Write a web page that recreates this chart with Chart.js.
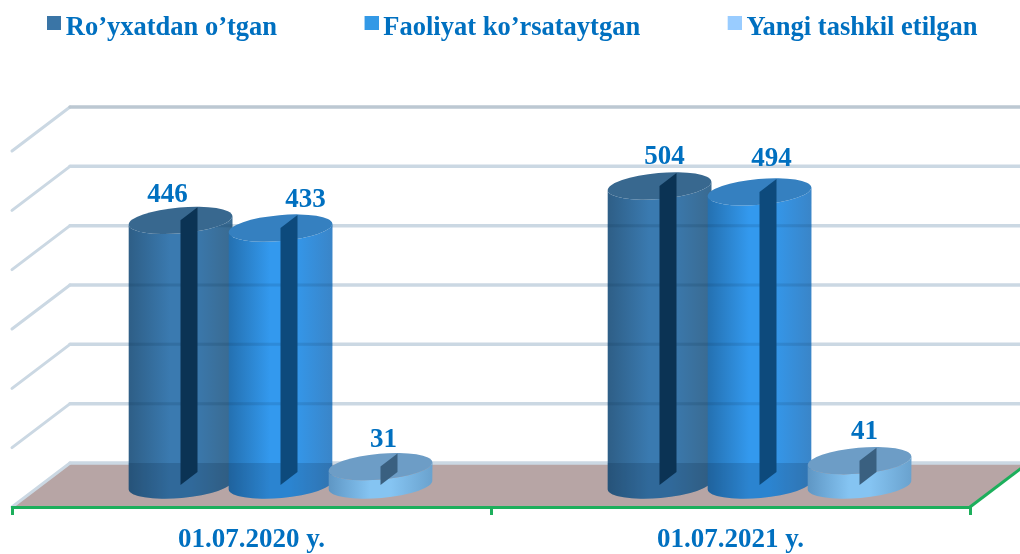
<!DOCTYPE html>
<html><head><meta charset="utf-8">
<style>html,body{margin:0;padding:0;background:#fff}canvas{display:block}</style>
<script src="https://cdn.jsdelivr.net/npm/chart.js@4/dist/chart.umd.min.js"></script>
</head><body><canvas id="c" width="1020" height="554"></canvas>
<script>
const categories = ['01.07.2020 y.', '01.07.2021 y.'];
const seriesNames = ['Ro’yxatdan o’tgan', 'Faoliyat ko’rsataytgan', 'Yangi tashkil etilgan'];
const registered = [446, 504];
const active = [433, 494];
const newlyCreated = [31, 41];
const yTicks = [0, 100, 200, 300, 400, 500, 600];

const FONT = '"Liberation Serif"';
const TEXT = '#0070C0';
const DEPTH = {x: 58, y: -44};
const legendColors = ['#3A75A6', '#3399E6', '#99CCFF'];
const cyl = [
  {left: '#2E5E86', mid: '#3A7AB0', right: '#3A6A90', top: '#38688F', plane: '#0B3354', band: .2},
  {left: '#2470B0', mid: '#3399EE', right: '#3A85C8', top: '#3580C0', plane: '#0D4A7C', band: .18},
  {left: '#5E96C4', mid: '#85C4F2', right: '#6AA2CE', top: '#6D9DC6', plane: '#3A6080', band: 0}
];
const labelNudge = [[[-13,-25],[5,-29]], [[25,-28],[12,-33]], [[3,-27],[5,-29]]];

function swatch(color){
  const s = document.createElement('canvas'); s.width = 18; s.height = 24;
  const g = s.getContext('2d'); g.fillStyle = color; g.fillRect(4,0,14,14);
  return s;
}

const scene = {
  id: 'scene',
  beforeLayout(chart){
    const lg = chart.legend;
    if (lg && !lg._patched){
      lg._patched = true;
      const fit = lg.fit;
      lg.fit = function(){ this.maxWidth = 3000; fit.call(this); this.width = 958; this.height = 151; };
    }
  },
  afterLayout(chart){
    const lg = chart.legend;
    lg.left = 51.5 - 92; lg.right = 3000; lg.top = 28 - 13.25 - 92;
  },
  beforeDraw(chart){
    const {ctx, scales:{x, y}} = chart;
    const f = y.getPixelForValue(0), L = x.left, R = x.right;
    ctx.save();
    ctx.fillStyle = '#B7A5A5';
    ctx.beginPath();
    ctx.moveTo(L, f); ctx.lineTo(R, f); ctx.lineTo(R+DEPTH.x, f+DEPTH.y); ctx.lineTo(L+DEPTH.x, f+DEPTH.y);
    ctx.closePath(); ctx.fill();
    ctx.lineCap = 'round';
    yTicks.forEach(v => {
      const p = y.getPixelForValue(v);
      ctx.strokeStyle = '#CBD8E3'; ctx.lineWidth = 3;
      if (v > 0){ ctx.beginPath(); ctx.moveTo(L, p); ctx.lineTo(L+DEPTH.x, p+DEPTH.y); ctx.stroke(); }
      ctx.strokeStyle = v === 600 ? '#BCC8D2' : '#CBD8E3'; ctx.lineWidth = 3.5;
      ctx.beginPath(); ctx.moveTo(L+DEPTH.x, p+DEPTH.y); ctx.lineTo(R+DEPTH.x, p+DEPTH.y); ctx.stroke();
    });
    ctx.strokeStyle = '#CBD8E3'; ctx.lineWidth = 3;
    ctx.beginPath(); ctx.moveTo(L, f); ctx.lineTo(L+DEPTH.x, f+DEPTH.y); ctx.stroke();
    ctx.strokeStyle = '#1DAF5C'; ctx.lineWidth = 3; ctx.lineCap = 'butt';
    ctx.beginPath(); ctx.moveTo(R, f); ctx.lineTo(R+DEPTH.x, f+DEPTH.y); ctx.stroke();
    ctx.restore();
  },
  afterDatasetsDraw(chart){
    const {ctx, scales:{y}} = chart;
    const RY = 13, TILT = -5*Math.PI/180;
    const floorBack = y.getPixelForValue(0) + DEPTH.y;
    chart.data.datasets.forEach((ds, di) => {
      const st = cyl[di];
      chart.getDatasetMeta(di).data.forEach((bar, i) => {
        const rx = bar.width/2 + 2;
        const cx = bar.x + DEPTH.x/2;
        const by = bar.base + DEPTH.y/2;
        const ty = bar.y + DEPTH.y/2;
        const dy = Math.sin(TILT)*rx;
        ctx.save();
        const g = ctx.createLinearGradient(cx-rx, 0, cx+rx, 0);
        g.addColorStop(0, st.left); g.addColorStop(.4, st.mid); g.addColorStop(.6, st.mid); g.addColorStop(1, st.right);
        ctx.fillStyle = g;
        const body = new Path2D();
        body.ellipse(cx, by, rx, RY, TILT, Math.PI, 0, true);
        body.lineTo(cx+rx, ty+dy);
        body.ellipse(cx, ty, rx, RY, TILT, 0, Math.PI, false);
        body.closePath();
        ctx.fill(body);
        if (st.band > 0){
          ctx.save();
          ctx.clip(body);
          ctx.fillStyle = `rgba(10,40,70,${st.band})`;
          ctx.fillRect(cx-rx-1, floorBack, 2*rx+2, by+RY-floorBack+2);
          ctx.strokeStyle = `rgba(10,40,70,${st.band*.7})`; ctx.lineWidth = 3;
          yTicks.slice(1).forEach(v => {
            const p = y.getPixelForValue(v) + DEPTH.y;
            ctx.beginPath(); ctx.moveTo(cx-rx-1, p); ctx.lineTo(cx+rx+1, p); ctx.stroke();
          });
          ctx.restore();
        }
        ctx.fillStyle = st.top;
        ctx.beginPath(); ctx.ellipse(cx, ty, rx, RY, TILT, 0, Math.PI*2); ctx.fill();
        ctx.fillStyle = st.plane;
        ctx.beginPath();
        ctx.moveTo(cx, ty); ctx.lineTo(cx+17, ty-13); ctx.lineTo(cx+17, by-13); ctx.lineTo(cx, by);
        ctx.closePath(); ctx.fill();
        ctx.restore();
      });
    });
    chart.data.datasets.forEach((ds, di) => {
      chart.getDatasetMeta(di).data.forEach((bar, i) => {
        const n = labelNudge[di][i];
        ctx.save();
        ctx.font = 'bold 27px ' + FONT; ctx.fillStyle = TEXT;
        ctx.textAlign = 'center'; ctx.textBaseline = 'middle';
        ctx.fillText(String(ds.data[i]), bar.x + DEPTH.x/2 + n[0], bar.y + DEPTH.y/2 + n[1]);
        ctx.restore();
      });
    });
  }
};

const seriesValues = [registered, active, newlyCreated];
new Chart(document.getElementById('c'), {
  type: 'bar',
  data: {
    labels: categories,
    datasets: seriesNames.map((n, i) => ({
      label: n, data: seriesValues[i],
      backgroundColor: 'rgba(0,0,0,0)', borderWidth: 0,
      categoryPercentage: 0.6263, barPercentage: 1
    }))
  },
  options: {
    responsive: false, animation: false, devicePixelRatio: 1,
    layout: {padding: {left: 12, right: 50, top: 0, bottom: 1}},
    plugins: {
      tooltip: {enabled: false},
      legend: {
        display: true, position: 'top', align: 'start',
        labels: {
          boxWidth: 1, boxHeight: 1, usePointStyle: true, padding: 92,
          color: TEXT, font: {family: FONT, size: 26.5, weight: 'bold'},
          generateLabels: c => c.data.datasets.map((d, i) => ({
            text: d.label, fontColor: TEXT, pointStyle: swatch(legendColors[i]),
            fillStyle: legendColors[i], strokeStyle: legendColors[i], lineWidth: 0, datasetIndex: i
          }))
        }
      }
    },
    scales: {
      x: {
        afterFit(s){ s.height = 46; },
        grid: {display: true, drawOnChartArea: false, drawTicks: true, color: '#1DAF5C', lineWidth: 3, tickLength: 8, offset: true},
        border: {display: true, color: '#1DAF5C', width: 3},
        ticks: {color: TEXT, padding: 9, maxRotation: 0, font: {family: FONT, size: 27, weight: 'bold'}}
      },
      y: {display: false, min: 0, max: 600, afterBuildTicks(s){ s.ticks = yTicks.map(v => ({value: v})); }}
    }
  },
  plugins: [scene]
});
</script></body></html>
